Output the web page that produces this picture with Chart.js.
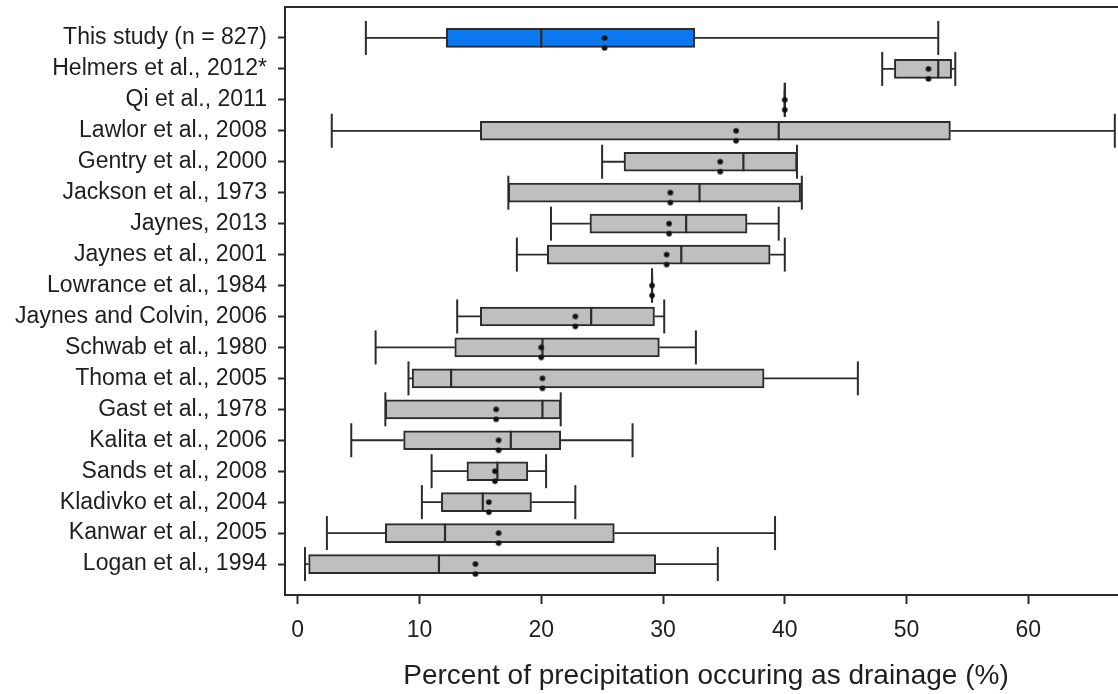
<!DOCTYPE html>
<html>
<head>
<meta charset="utf-8">
<script src="https://cdn.jsdelivr.net/npm/chart.js@4.4.1/dist/chart.umd.min.js"></script>
<style>
  html, body { margin: 0; padding: 0; background: #ffffff; overflow: hidden; }
  /* the plot frame runs slightly past the right edge of the view */
  #wrap { width: 1118px; height: 694px; overflow: hidden; }
</style>
</head>
<body>
<div id="wrap"><canvas id="drainage" width="1127" height="694"></canvas></div>
<script>
// Drainage as a share of precipitation, by study (box = quartiles, line = median, dots = mean)
const studies = [
  "This study (n = 827)", "Helmers et al., 2012*", "Qi et al., 2011", "Lawlor et al., 2008",
  "Gentry et al., 2000", "Jackson et al., 1973", "Jaynes, 2013", "Jaynes et al., 2001",
  "Lowrance et al., 1984", "Jaynes and Colvin, 2006", "Schwab et al., 1980", "Thoma et al., 2005",
  "Gast et al., 1978", "Kalita et al., 2006", "Sands et al., 2008", "Kladivko et al., 2004",
  "Kanwar et al., 2005", "Logan et al., 1994"
];
const whiskerLow    = [5.6, 48.0, 40.0, 2.8, 25.0, 17.3, 20.8, 18.0, 29.1, 13.1, 6.4, 9.1, 7.2, 4.4, 11.0, 10.2, 2.4, 0.6];
const lowerQuartile = [12.2, 49.0, 40.0, 15.0, 26.8, 17.3, 24.0, 20.5, 29.1, 15.0, 12.9, 9.4, 7.2, 8.7, 13.9, 11.8, 7.2, 0.9];
const medians       = [20.0, 52.6, 40.0, 39.5, 36.6, 33.0, 31.9, 31.5, 29.1, 24.1, 20.1, 12.6, 20.1, 17.5, 16.4, 15.2, 12.1, 11.6];
const upperQuartile = [32.6, 53.7, 40.0, 53.6, 41.0, 41.3, 36.9, 38.8, 29.1, 29.3, 29.7, 38.3, 21.6, 21.6, 18.9, 19.2, 26.0, 29.4];
const whiskerHigh   = [52.6, 54.0, 40.0, 67.1, 41.0, 41.4, 39.5, 40.0, 29.1, 30.1, 32.7, 46.0, 21.6, 27.5, 20.4, 22.8, 39.2, 34.5];
const means         = [25.2, 51.8, 40.0, 36.0, 34.7, 30.6, 30.5, 30.3, 29.1, 22.8, 20.0, 20.1, 16.3, 16.5, 16.2, 15.7, 16.5, 14.6];
const xTickValues   = [0, 10, 20, 30, 40, 50, 60];

const FONT = "'Liberation Sans', Arial, Helvetica, sans-serif";
const INK = '#2b2b2b';
const TEXT = '#1e1e1e';
const HIGHLIGHT = '#0b78f2';
const BOX_GRAY = '#bfbfbf';

// Mean marker: a pair of small dots stacked below the point
function meanMarker() {
  const c = document.createElement('canvas');
  c.width = 8; c.height = 28;
  const g = c.getContext('2d');
  g.fillStyle = '#111111';
  [14, 24].forEach(cy => { g.beginPath(); g.arc(4, cy, 2.8, 0, Math.PI * 2); g.fill(); });
  return c;
}

const whiskerPoints = [];
studies.forEach((_, i) => {
  whiskerPoints.push({ x: whiskerLow[i], y: i }, { x: lowerQuartile[i], y: i }, { x: null, y: i });
  whiskerPoints.push({ x: upperQuartile[i], y: i }, { x: whiskerHigh[i], y: i }, { x: null, y: i });
});
const capPoints = [];
studies.forEach((_, i) => {
  capPoints.push({ x: whiskerLow[i], y: i }, { x: whiskerHigh[i], y: i });
});

// Axis boxes get fixed sizes and no label overhang padding
const fixSize = (prop, size) => s => {
  s[prop] = size;
  s.paddingTop = 0; s.paddingBottom = 0; s.paddingLeft = 0; s.paddingRight = 0;
};

new Chart(document.getElementById('drainage'), {
  type: 'bar',
  data: {
    datasets: [
      {
        type: 'scatter', indexAxis: 'x', order: 0,
        data: studies.map((_, i) => ({ x: means[i], y: i })),
        pointStyle: meanMarker(), pointRadius: 4
      },
      {
        type: 'scatter', indexAxis: 'x', order: 1,
        data: studies.map((_, i) => ({ x: medians[i], y: i })),
        pointStyle: 'line', pointRotation: 90, pointRadius: 9.5,
        pointBorderWidth: 2.2, pointBorderColor: INK, pointBackgroundColor: INK
      },
      {
        type: 'bar', order: 2,
        data: studies.map((_, i) => ({ x: [lowerQuartile[i], upperQuartile[i]], y: i })),
        backgroundColor: ctx => ctx.dataIndex === 0 ? HIGHLIGHT : BOX_GRAY,
        borderColor: INK, borderWidth: 2, borderSkipped: false, barThickness: 19
      },
      {
        type: 'scatter', indexAxis: 'x', order: 3,
        data: capPoints,
        pointStyle: 'line', pointRotation: 90, pointRadius: 17,
        pointBorderWidth: 2, pointBorderColor: INK, pointBackgroundColor: INK
      },
      {
        type: 'scatter', indexAxis: 'x', order: 4,
        data: whiskerPoints, showLine: true, spanGaps: false,
        borderColor: INK, borderWidth: 1.8, pointRadius: 0
      }
    ]
  },
  options: {
    indexAxis: 'y',
    responsive: false,
    animation: false,
    events: [],
    layout: { autoPadding: false, padding: { top: 7, right: 0, bottom: 0, left: 0 } },
    plugins: { legend: { display: false }, tooltip: { enabled: false } },
    scales: {
      x: {
        type: 'linear', position: 'bottom', min: -1.04, max: 68.1, offset: false,
        afterBuildTicks: s => { s.ticks = xTickValues.map(v => ({ value: v })); },
        afterFit: fixSize('height', 99),
        grid: { drawOnChartArea: false, offset: false, tickLength: 9, tickWidth: 2, tickColor: INK },
        border: { color: INK, width: 2 },
        ticks: { font: { family: FONT, size: 23 }, color: TEXT, padding: 13, maxRotation: 0, autoSkip: false },
        title: {
          display: true, text: 'Percent of precipitation occuring as drainage (%)',
          font: { family: FONT, size: 28 }, color: TEXT, padding: { top: 0, bottom: 1 }
        }
      },
      xTop: {
        type: 'linear', position: 'top', display: true,
        grid: { drawOnChartArea: false, drawTicks: false },
        ticks: { display: false },
        border: { color: INK, width: 2 },
        afterFit: fixSize('height', 0)
      },
      y: {
        type: 'linear', min: -1, max: 18, reverse: true, offset: false,
        afterBuildTicks: s => { s.ticks = studies.map((_, i) => ({ value: i })); },
        afterFit: fixSize('width', 285),
        grid: { drawOnChartArea: false, offset: false, tickLength: 7, tickWidth: 2, tickColor: INK },
        border: { color: INK, width: 2 },
        ticks: {
          callback: v => studies[v], font: { family: FONT, size: 23 }, color: TEXT,
          padding: 11, autoSkip: false
        }
      }
    }
  }
});
</script>
</body>
</html>
